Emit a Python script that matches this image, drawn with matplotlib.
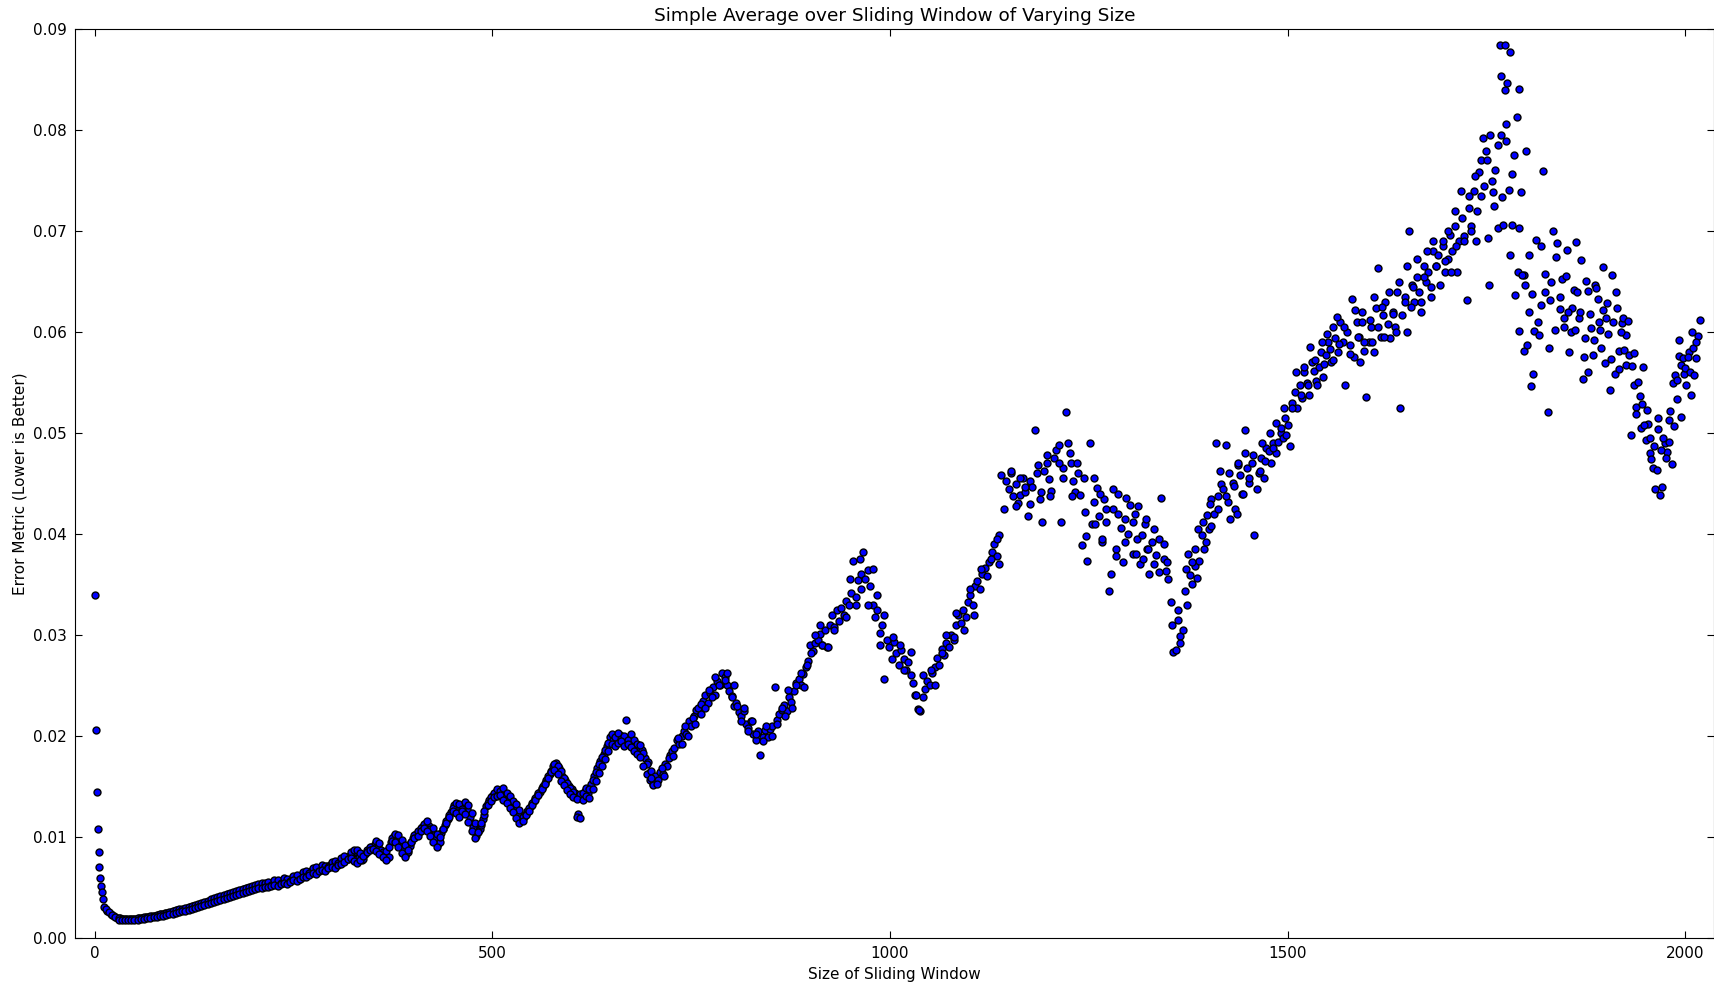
import numpy as np
import matplotlib.pyplot as plt

# error for window sizes 1..10
head_err = [0.0340, 0.0206, 0.01447, 0.01077, 0.0085, 0.0070, 0.0059, 0.0051, 0.0045, 0.0038]

# window sizes 12, 16, ... 696 (every 4th)
low_err = [
    0.00300, 0.00262, 0.00232, 0.00212, 0.00200, 0.00191, 0.00186, 0.00182, 0.00183, 0.00185,  # 12-48
    0.00189, 0.00193, 0.00198, 0.00203, 0.00207, 0.00213, 0.00220, 0.00226, 0.00232, 0.00240,  # 52-88
    0.00246, 0.00252, 0.00262, 0.00270, 0.00276, 0.00284, 0.00292, 0.00300, 0.00310, 0.00316,  # 92-128
    0.00330, 0.00338, 0.00352, 0.00362, 0.00376, 0.00386, 0.00396, 0.00404, 0.00418, 0.00430,  # 132-168
    0.00438, 0.00446, 0.00460, 0.00468, 0.00478, 0.00490, 0.00498, 0.00505, 0.00512, 0.00520,  # 172-208
    0.00528, 0.00522, 0.00538, 0.00546, 0.00540, 0.00556, 0.00566, 0.00558, 0.00574, 0.00590,  # 212-248
    0.00602, 0.00598, 0.00622, 0.00640, 0.00628, 0.00660, 0.00676, 0.00664, 0.00700, 0.00690,  # 252-288
    0.00712, 0.00722, 0.00740, 0.00730, 0.00752, 0.00760, 0.00790, 0.00812, 0.00830, 0.00845,  # 292-328
    0.00800, 0.00772, 0.00830, 0.00870, 0.00900, 0.00925, 0.00900, 0.00870, 0.00820, 0.00790,  # 332-368
    0.00950, 0.01010, 0.00990, 0.00940, 0.00880, 0.00830, 0.00910, 0.00990, 0.01030, 0.01050,  # 372-408
    0.01100, 0.01140, 0.01110, 0.01050, 0.00990, 0.00930, 0.01040, 0.01120, 0.01180, 0.01250,  # 412-448
    0.01310, 0.01290, 0.01250, 0.01310, 0.01280, 0.01200, 0.01100, 0.01010, 0.01080, 0.01180,  # 452-488
    0.01300, 0.01360, 0.01400, 0.01440, 0.01420, 0.01450, 0.01400, 0.01370, 0.01320, 0.01290,  # 492-528
    0.01240, 0.01170, 0.01200, 0.01260, 0.01300, 0.01350, 0.01400, 0.01440, 0.01500, 0.01560,  # 532-568
    0.01620, 0.01700, 0.01730, 0.01680, 0.01600, 0.01560, 0.01500, 0.01470, 0.01430, 0.01230,  # 572-608
    0.01400, 0.01450, 0.01430, 0.01520, 0.01600, 0.01680, 0.01750, 0.01820, 0.01900, 0.01990,  # 612-648
    0.01960, 0.01990, 0.02010, 0.01950, 0.02160, 0.01980, 0.01930, 0.01900, 0.01880, 0.01860,  # 652-688
    0.01780, 0.01740,                                                                          # 692-696
]

# window sizes 14, 18, ... 698 (upper side of the same band)
low_err_b = [
    0.00285, 0.00250, 0.00222, 0.00206, 0.00196, 0.00189, 0.00184, 0.00181, 0.00184, 0.00188,  # 14-50
    0.00192, 0.00198, 0.00201, 0.00208, 0.00212, 0.00219, 0.00225, 0.00231, 0.00238, 0.00246,  # 54-90
    0.00254, 0.00260, 0.00270, 0.00280, 0.00286, 0.00296, 0.00305, 0.00318, 0.00326, 0.00336,  # 94-130
    0.00346, 0.00356, 0.00368, 0.00380, 0.00390, 0.00402, 0.00412, 0.00420, 0.00432, 0.00444,  # 134-170
    0.00455, 0.00462, 0.00472, 0.00484, 0.00494, 0.00503, 0.00512, 0.00520, 0.00532, 0.00540,  # 174-210
    0.00545, 0.00552, 0.00520, 0.00572, 0.00568, 0.00545, 0.00590, 0.00585, 0.00560, 0.00615,  # 214-250
    0.00625, 0.00585, 0.00655, 0.00660, 0.00640, 0.00690, 0.00700, 0.00660, 0.00720, 0.00715,  # 254-290
    0.00700, 0.00748, 0.00765, 0.00745, 0.00790, 0.00810, 0.00780, 0.00850, 0.00865, 0.00870,  # 294-330
    0.00835, 0.00780, 0.00865, 0.00900, 0.00880, 0.00955, 0.00935, 0.00850, 0.00860, 0.00800,  # 334-370
    0.00985, 0.01030, 0.01015, 0.00970, 0.00920, 0.00850, 0.00950, 0.01020, 0.01060, 0.01085,  # 374-410
    0.01125, 0.01160, 0.01080, 0.01085, 0.01030, 0.00945, 0.01075, 0.01160, 0.01220, 0.01290,  # 414-450
    0.01330, 0.01320, 0.01280, 0.01345, 0.01310, 0.01240, 0.01140, 0.01050, 0.01120, 0.01220,  # 454-490
    0.01330, 0.01390, 0.01430, 0.01470, 0.01450, 0.01480, 0.01430, 0.01400, 0.01350, 0.01320,  # 494-530
    0.01270, 0.01200, 0.01230, 0.01290, 0.01330, 0.01380, 0.01430, 0.01480, 0.01530, 0.01600,  # 534-570
    0.01650, 0.01720, 0.01700, 0.01650, 0.01580, 0.01530, 0.01480, 0.01440, 0.01200, 0.01420,  # 574-610
    0.01430, 0.01480, 0.01470, 0.01560, 0.01640, 0.01720, 0.01790, 0.01860, 0.01930, 0.02020,  # 614-650
    0.01990, 0.02030, 0.01970, 0.02000, 0.01960, 0.02020, 0.01960, 0.01920, 0.01910, 0.01830,  # 654-690
    0.01720, 0.01640,                                                                          # 694-698
]

# window sizes 30, 34, ... 706 (lower side of the same band)
low_err_c = [
    0.00180, 0.00176, 0.00173, 0.00172, 0.00174, 0.00176, 0.00180, 0.00184, 0.00188, 0.00192,  # 30-66
    0.00196, 0.00202, 0.00206, 0.00212, 0.00218, 0.00224, 0.00232, 0.00238, 0.00244, 0.00252,  # 70-106
    0.00260, 0.00268, 0.00276, 0.00285, 0.00296, 0.00302, 0.00315, 0.00325, 0.00334, 0.00346,  # 110-146
    0.00355, 0.00366, 0.00378, 0.00388, 0.00398, 0.00408, 0.00418, 0.00426, 0.00436, 0.00446,  # 150-186
    0.00456, 0.00462, 0.00472, 0.00480, 0.00488, 0.00495, 0.00500, 0.00505, 0.00512, 0.00518,  # 190-226
    0.00515, 0.00528, 0.00540, 0.00535, 0.00555, 0.00572, 0.00565, 0.00585, 0.00605, 0.00598,  # 230-266
    0.00625, 0.00640, 0.00632, 0.00660, 0.00672, 0.00665, 0.00690, 0.00702, 0.00695, 0.00718,  # 270-306
    0.00730, 0.00752, 0.00775, 0.00790, 0.00760, 0.00745, 0.00770, 0.00810, 0.00845, 0.00870,  # 310-346
    0.00880, 0.00860, 0.00830, 0.00800, 0.00770, 0.00900, 0.00960, 0.00945, 0.00900, 0.00840,  # 350-386
    0.00800, 0.00870, 0.00950, 0.00990, 0.01010, 0.01060, 0.01090, 0.01060, 0.01010, 0.00950,  # 390-426
    0.00900, 0.01000, 0.01080, 0.01140, 0.01200, 0.01260, 0.01240, 0.01200, 0.01260, 0.01230,  # 430-466
    0.01150, 0.01060, 0.00990, 0.01050, 0.01140, 0.01260, 0.01310, 0.01350, 0.01390, 0.01400,  # 470-506
    0.01410, 0.01360, 0.01330, 0.01290, 0.01250, 0.01190, 0.01140, 0.01160, 0.01220, 0.01260,  # 510-546
    0.01310, 0.01360, 0.01410, 0.01470, 0.01520, 0.01580, 0.01640, 0.01660, 0.01620, 0.01550,  # 550-586
    0.01510, 0.01460, 0.01420, 0.01390, 0.01370, 0.01190, 0.01360, 0.01400, 0.01380, 0.01470,  # 590-626
    0.01550, 0.01630, 0.01700, 0.01770, 0.01850, 0.01920, 0.01900, 0.01930, 0.01950, 0.01900,  # 630-666
    0.01920, 0.01890, 0.01850, 0.01820, 0.01790, 0.01700, 0.01620, 0.01560, 0.01520, 0.01540,  # 670-706
]

# window sizes 699, 702, ... 2016 (every 3rd)
high_err = [
    0.01650, 0.01510, 0.01600, 0.01560, 0.01640, 0.01620, 0.01720, 0.01700, 0.01810, 0.01850,  # 699
    0.01880, 0.01960, 0.01920, 0.02000, 0.02050, 0.02020, 0.02150, 0.02100, 0.02200, 0.02260,  # 729
    0.02280, 0.02220, 0.02350, 0.02400, 0.02330, 0.02420, 0.02480, 0.02400, 0.02540, 0.02500,  # 759
    0.02620, 0.02580, 0.02500, 0.02440, 0.02390, 0.02300, 0.02330, 0.02240, 0.02200, 0.02250,  # 789
    0.02120, 0.02080, 0.02150, 0.02020, 0.01960, 0.02050, 0.01810, 0.01990, 0.02060, 0.01990,  # 819
    0.02070, 0.02100, 0.02480, 0.02160, 0.02220, 0.02260, 0.02310, 0.02250, 0.02380, 0.02340,  # 849
    0.02440, 0.02520, 0.02560, 0.02500, 0.02610, 0.02680, 0.02740, 0.02900, 0.02840, 0.02920,  # 879
    0.02950, 0.03010, 0.02900, 0.03050, 0.02880, 0.03100, 0.03200, 0.03080, 0.03250, 0.03140,  # 909
    0.03270, 0.03200, 0.03340, 0.03300, 0.03420, 0.03730, 0.03380, 0.03540, 0.03600, 0.03820,  # 939
    0.03550, 0.03640, 0.03480, 0.03300, 0.03180, 0.03250, 0.03020, 0.03100, 0.02560, 0.02950,  # 969
    0.02880, 0.02760, 0.02930, 0.02820, 0.02700, 0.02850, 0.02760, 0.02650, 0.02730, 0.02600,  # 999
    0.02520, 0.02400, 0.02270, 0.02250, 0.02380, 0.02460, 0.02540, 0.02500, 0.02620, 0.02680,  # 1029
    0.02770, 0.02700, 0.02860, 0.02800, 0.02920, 0.02880, 0.03000, 0.02950, 0.03100, 0.03200,  # 1059
    0.03120, 0.03250, 0.03180, 0.03330, 0.03400, 0.03300, 0.03480, 0.03530, 0.03450, 0.03600,  # 1089
    0.03660, 0.03580, 0.03720, 0.03820, 0.03900, 0.03780, 0.03990, 0.04580, 0.04250, 0.04520,  # 1119
    0.04450, 0.04600, 0.04380, 0.04490, 0.04310, 0.04390, 0.04550, 0.04420, 0.04180, 0.04520,  # 1149
    0.04470, 0.05030, 0.04600, 0.04350, 0.04120, 0.04620, 0.04700, 0.04540, 0.04430, 0.04750,  # 1179
    0.04830, 0.04880, 0.04120, 0.04650, 0.05210, 0.04900, 0.04700, 0.04520, 0.04420, 0.04600,  # 1209
    0.04390, 0.03890, 0.04220, 0.03730, 0.04900, 0.04100, 0.04320, 0.04460, 0.04180, 0.03920,  # 1239
    0.04350, 0.04120, 0.03430, 0.03600, 0.04250, 0.03850, 0.04400, 0.04060, 0.03720, 0.04150,  # 1269
    0.04000, 0.04290, 0.03800, 0.04200, 0.03950, 0.03700, 0.03990, 0.04100, 0.03850, 0.03600,  # 1299
    0.03920, 0.03700, 0.03790, 0.03950, 0.04360, 0.03750, 0.03630, 0.03550, 0.03330, 0.02830,  # 1329
    0.02850, 0.03150, 0.02990, 0.03050, 0.03430, 0.03300, 0.03590, 0.03500, 0.03680, 0.03560,  # 1359
    0.03730, 0.03990, 0.03850, 0.04190, 0.04050, 0.04350, 0.04200, 0.04900, 0.04380, 0.04490,  # 1389
    0.04450, 0.04880, 0.04320, 0.04150, 0.04500, 0.04250, 0.04680, 0.04580, 0.04400, 0.04800,  # 1419
    0.04650, 0.04500, 0.04700, 0.03990, 0.04450, 0.04600, 0.04750, 0.04550, 0.04850, 0.04820,  # 1449
    0.04700, 0.04900, 0.04800, 0.04910, 0.05000, 0.04950, 0.05150, 0.05080, 0.04870, 0.05300,  # 1479
    0.05410, 0.05250, 0.05480, 0.05350, 0.05600, 0.05500, 0.05380, 0.05700, 0.05610, 0.05520,  # 1509
    0.05650, 0.05800, 0.05550, 0.05770, 0.05900, 0.05700, 0.06050, 0.05940, 0.05800, 0.06100,  # 1539
    0.05900, 0.05480, 0.06000, 0.05870, 0.06330, 0.05750, 0.06100, 0.05950, 0.06200, 0.05810,  # 1569
    0.05360, 0.05900, 0.06050, 0.05800, 0.06240, 0.06630, 0.05950, 0.06170, 0.06300, 0.06080,  # 1599
    0.05940, 0.06200, 0.06050, 0.06400, 0.05250, 0.06170, 0.06350, 0.06000, 0.07000, 0.06470,  # 1629
    0.06300, 0.06550, 0.06400, 0.06200, 0.06650, 0.06500, 0.06600, 0.06350, 0.06800, 0.06650,  # 1659
    0.06760, 0.06470, 0.06850, 0.06600, 0.06720, 0.06960, 0.06800, 0.07050, 0.06600, 0.06900,  # 1689
    0.07130, 0.06950, 0.06320, 0.07230, 0.07050, 0.07400, 0.06900, 0.07590, 0.07350, 0.07920,  # 1719
    0.07790, 0.06930, 0.07950, 0.07390, 0.07610, 0.07030, 0.08840, 0.07340, 0.08840, 0.08470,  # 1749
    0.08770, 0.07570, 0.07750, 0.08130, 0.08410, 0.07390, 0.06570, 0.07790, 0.06760, 0.05470,  # 1779
    0.05580, 0.06910, 0.06100, 0.06850, 0.07600, 0.06580, 0.05210, 0.06320, 0.07000, 0.06020,  # 1809
    0.06880, 0.06230, 0.06530, 0.06050, 0.06810, 0.05800, 0.06240, 0.06420, 0.06890, 0.06140,  # 1839
    0.06710, 0.05750, 0.06510, 0.05600, 0.06040, 0.05770, 0.06470, 0.06330, 0.06020, 0.06640,  # 1869
    0.05690, 0.06290, 0.05430, 0.06570, 0.05580, 0.06240, 0.05810, 0.06090, 0.05820, 0.05970,  # 1899
    0.05770, 0.04980, 0.05480, 0.05260, 0.05510, 0.05050, 0.05650, 0.04930, 0.05090, 0.04800,  # 1929
    0.04650, 0.04450, 0.05150, 0.04390, 0.04470, 0.04900, 0.04810, 0.04910, 0.04690, 0.05070,  # 1959
    0.05340, 0.05760, 0.05160, 0.05580, 0.05480, 0.05800, 0.05380, 0.05840, 0.05740, 0.05960,  # 1989
]

extra_points = [
    (700, 0.0158), (707, 0.0152), (713, 0.0168), (716, 0.0160), (722, 0.0178), (727, 0.0180),
    (733, 0.0198), (738, 0.0192), (742, 0.0210), (746, 0.0200), (752, 0.0218), (755, 0.0212),
    (762, 0.0232), (768, 0.0228), (772, 0.0245), (776, 0.0238), (780, 0.0258), (785, 0.0250),
    (792, 0.0255), (795, 0.0262), (801, 0.0238), (804, 0.0250), (808, 0.0230), (813, 0.0215),
    (817, 0.0228), (822, 0.0205), (827, 0.0215), (831, 0.0202), (840, 0.0195), (844, 0.0210),
    (852, 0.0200), (858, 0.0212), (864, 0.0228), (868, 0.0220), (872, 0.0245), (877, 0.0228),
    (882, 0.0250), (888, 0.0262), (892, 0.0248), (896, 0.0270), (901, 0.0282), (906, 0.0300),
    (912, 0.0310), (914, 0.0290), (922, 0.0288), (930, 0.0305), (945, 0.0318), (950, 0.0355),
    (957, 0.0330), (962, 0.0375), (964, 0.0345), (972, 0.0330), (978, 0.0365), (984, 0.0340),
    (988, 0.0290), (993, 0.0320), (1004, 0.0298), (1013, 0.0290), (1018, 0.0265), (1026, 0.0283),
    (1033, 0.0240), (1036, 0.0226), (1042, 0.0260), (1052, 0.0265), (1056, 0.0250), (1065, 0.0282),
    (1070, 0.0300), (1080, 0.0298), (1083, 0.0322), (1093, 0.0305), (1101, 0.0345), (1106, 0.0320),
    (1114, 0.0365), (1127, 0.0375), (1134, 0.0395), (1137, 0.0370),
    (1152, 0.0462), (1158, 0.0428), (1163, 0.0455), (1170, 0.0447), (1176, 0.0430), (1186, 0.0468),
    (1190, 0.0442), (1198, 0.0478), (1201, 0.0438), (1212, 0.0470), (1218, 0.0455), (1226, 0.0480),
    (1229, 0.0438), (1235, 0.0470), (1244, 0.0455), (1247, 0.0398),
    (1256, 0.0455), (1258, 0.0410), (1264, 0.0440), (1267, 0.0395), (1272, 0.0425), (1280, 0.0445),
    (1284, 0.0378), (1287, 0.0420), (1295, 0.0392), (1297, 0.0436), (1305, 0.0412), (1309, 0.0380),
    (1312, 0.0428), (1318, 0.0375), (1322, 0.0415), (1325, 0.0385), (1332, 0.0405), (1338, 0.0362),
    (1345, 0.0390), (1348, 0.0372),
    (1355, 0.0310), (1362, 0.0325), (1364, 0.0292), (1372, 0.0365), (1375, 0.0380), (1380, 0.0372),
    (1384, 0.0385), (1387, 0.0405), (1394, 0.0412), (1397, 0.0392), (1402, 0.0430), (1404, 0.0408),
    (1412, 0.0425), (1415, 0.0462),
    (1422, 0.0438), (1426, 0.0460), (1432, 0.0448), (1436, 0.0420), (1438, 0.0470), (1444, 0.0440),
    (1446, 0.0503), (1451, 0.0455), (1457, 0.0478), (1465, 0.0462), (1468, 0.0490), (1471, 0.0472),
    (1478, 0.0500), (1482, 0.0485), (1485, 0.0510), (1492, 0.0505), (1495, 0.0525), (1498, 0.0498),
    (1505, 0.0525), (1511, 0.0560), (1517, 0.0538), (1520, 0.0565), (1526, 0.0548), (1528, 0.0585),
    (1534, 0.0572), (1537, 0.0548), (1543, 0.0590), (1546, 0.0568), (1550, 0.0598), (1553, 0.0583),
    (1557, 0.0572), (1562, 0.0615), (1565, 0.0588), (1571, 0.0605), (1578, 0.0578), (1585, 0.0622),
    (1588, 0.0595), (1591, 0.0570), (1594, 0.0610), (1596, 0.0590),
    (1603, 0.0612), (1606, 0.0590), (1609, 0.0635), (1613, 0.0605), (1618, 0.0625), (1621, 0.0595),
    (1627, 0.0640), (1633, 0.0618), (1636, 0.0600), (1640, 0.0650), (1647, 0.0630), (1650, 0.0665),
    (1655, 0.0625), (1658, 0.0645), (1662, 0.0672), (1668, 0.0630), (1671, 0.0655), (1675, 0.0680),
    (1680, 0.0645), (1683, 0.0690), (1686, 0.0665), (1695, 0.0690), (1698, 0.0670), (1702, 0.0700),
    (1705, 0.0660), (1710, 0.0720), (1712, 0.0685), (1718, 0.0740), (1722, 0.0690), (1728, 0.0735),
    (1731, 0.0700), (1735, 0.0755), (1738, 0.0720), (1743, 0.0770), (1747, 0.0745),
    (1751, 0.0770), (1753, 0.0647), (1757, 0.0750), (1760, 0.0725), (1765, 0.0785), (1768, 0.0854),
    (1768, 0.0795), (1771, 0.0706), (1774, 0.0806), (1774, 0.0789), (1773, 0.0840), (1778, 0.0741),
    (1780, 0.0676), (1782, 0.0706), (1786, 0.0637), (1789, 0.0660), (1791, 0.0703), (1791, 0.0601),
    (1795, 0.0657), (1797, 0.0581), (1799, 0.0647), (1801, 0.0587), (1804, 0.0620), (1807, 0.0638),
    (1810, 0.0601), (1816, 0.0597), (1819, 0.0627), (1823, 0.0640), (1828, 0.0584), (1831, 0.0650),
    (1837, 0.0674), (1843, 0.0635), (1847, 0.0614), (1850, 0.0656), (1853, 0.0620), (1856, 0.0600),
    (1861, 0.0602), (1864, 0.0640), (1868, 0.0620), (1871, 0.0554), (1874, 0.0594), (1877, 0.0641),
    (1880, 0.0618), (1885, 0.0592), (1888, 0.0644), (1891, 0.0610), (1894, 0.0584), (1897, 0.0622),
    (1900, 0.0614), (1903, 0.0598), (1906, 0.0573), (1909, 0.0610), (1913, 0.0640), (1916, 0.0563),
    (1919, 0.0600), (1922, 0.0614), (1925, 0.0567), (1928, 0.0611), (1933, 0.0566), (1936, 0.0579),
    (1938, 0.0519), (1943, 0.0537), (1945, 0.0529), (1948, 0.0508), (1952, 0.0523), (1955, 0.0495),
    (1957, 0.0474), (1961, 0.0487), (1964, 0.0463), (1966, 0.0504), (1970, 0.0483), (1972, 0.0495),
    (1976, 0.0475), (1979, 0.0513), (1981, 0.0522), (1984, 0.0550), (1987, 0.0557), (1990, 0.0553),
    (1992, 0.0592), (1994, 0.0567), (1997, 0.0574), (1999, 0.0564), (2003, 0.0575), (2006, 0.0560),
    (2008, 0.0600), (2011, 0.0557), (2014, 0.0590), (2018, 0.0612),
]

window = np.concatenate([
    np.arange(1, 11),
    12 + 4 * np.arange(len(low_err)),
    14 + 4 * np.arange(len(low_err_b)),
    30 + 4 * np.arange(len(low_err_c)),
    699 + 3 * np.arange(len(high_err)),
    [p[0] for p in extra_points],
])
error = np.concatenate([head_err, low_err, low_err_b, low_err_c, high_err,
                        [p[1] for p in extra_points]])

fig = plt.figure(figsize=(17.15, 9.85), dpi=100)
ax = fig.add_axes([0.0436, 0.048, 0.9558, 0.9223])

ax.scatter(window, error, s=25, c='#0000ff', edgecolors='black', linewidths=1.0, zorder=3)

ax.set_xlim(-25, 2036)
ax.set_ylim(0, 0.09)
ax.set_xticks([0, 500, 1000, 1500, 2000])
ax.set_yticks(np.arange(0, 0.0901, 0.01))
ax.yaxis.set_major_formatter(plt.FormatStrFormatter('%.2f'))
ax.tick_params(direction='in', top=True, right=True, length=5, labelsize=11, pad=6)

ax.set_title('Simple Average over Sliding Window of Varying Size', fontsize=13.3)
ax.set_xlabel('Size of Sliding Window', fontsize=11)
ax.set_ylabel('Error Metric (Lower is Better)', fontsize=11)

fig.savefig('out.png', dpi=100)
